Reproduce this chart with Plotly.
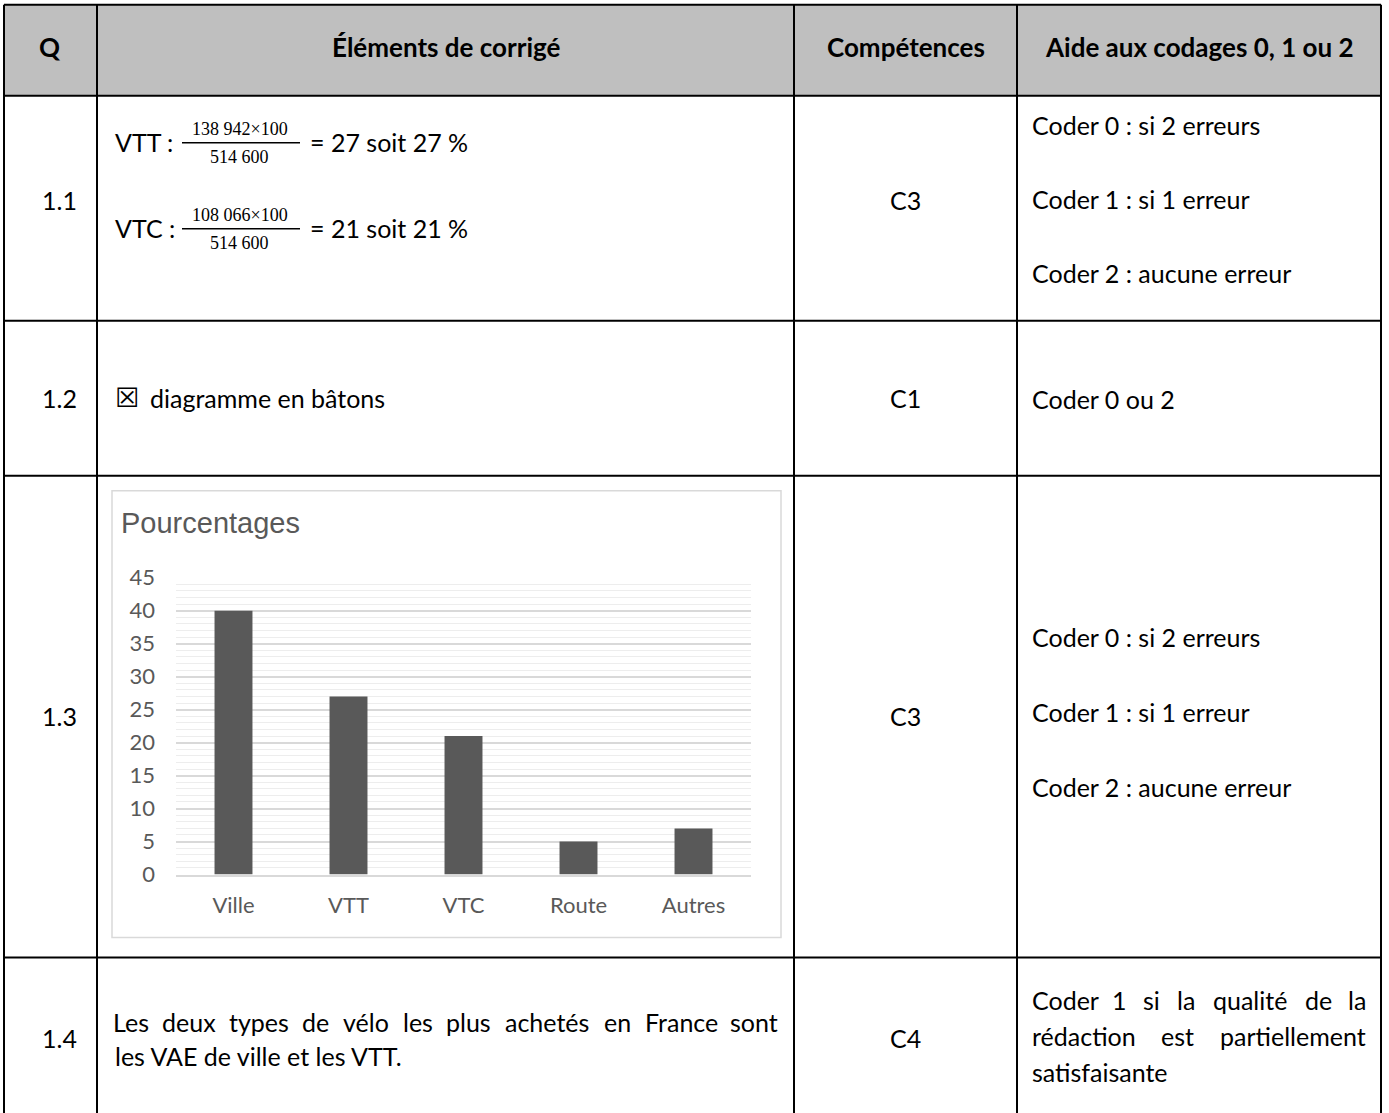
import plotly.graph_objects as go

W, H = 1389, 1113

# ---------------- data ----------------
categories = ["Ville", "VTT", "VTC", "Route", "Autres"]
pourcentages = [40, 27, 21, 5, 7]
y_ticks = [0, 5, 10, 15, 20, 25, 30, 35, 40, 45]

headers = ["Q", "Éléments de corrigé", "Compétences", "Aide aux codages 0, 1 ou 2"]
questions = ["1.1", "1.2", "1.3", "1.4"]
competences = ["C3", "C1", "C3", "C4"]
aide_11 = ["Coder 0 : si 2 erreurs", "Coder 1 : si 1 erreur", "Coder 2 : aucune erreur"]
aide_12 = "Coder 0 ou 2"
aide_13 = ["Coder 0 : si 2 erreurs", "Coder 1 : si 1 erreur", "Coder 2 : aucune erreur"]
formule_labels = ["VTT :", "VTC :"]
formule_num = ["138 942×100", "108 066×100"]
formule_den = ["514 600", "514 600"]
formule_res = ["= 27 soit 27 %", "= 21 soit 21 %"]
case_cochee = "☒"
reponse_12 = "diagramme en bâtons"
reponse_14_l1 = ["Les", "deux", "types", "de", "vélo", "les", "plus", "achetés", "en", "France", "sont"]
reponse_14_l2 = "les VAE de ville et les VTT."
aide_14_l1 = ["Coder", "1", "si", "la", "qualité", "de", "la"]
aide_14_l2 = ["rédaction", "est", "partiellement"]
aide_14_l3 = "satisfaisante"
chart_title = "Pourcentages"


def X(px):
    return px / W


def Y(py):
    # vertical position in the picture -> paper fraction
    return 1 - ((py - 13.2) / 0.976) / H


TXT = "Lato, 'DejaVu Sans', sans-serif"
FS = 25
fig = go.Figure()

fig.add_trace(go.Bar(x=categories, y=pourcentages, marker=dict(color="#595959", line=dict(width=0)),
                     width=0.33, hoverinfo="skip"))

# ------------- table geometry -------------
xl, xq, xe, xc, xr = 4, 97, 794, 1017, 1381
yt, yh, y1, y2, y3, yb = 4, 95, 320, 475, 957, 1113

shapes = []
shapes.append(dict(type="rect", xref="paper", yref="paper", x0=X(xl), x1=X(xr), y0=Y(yh), y1=Y(yt),
                   fillcolor="#BFBFBF", line=dict(width=0), layer="below"))
line = dict(color="black", width=2)
for yy in [yt, yh, y1, y2, y3]:
    shapes.append(dict(type="line", xref="paper", yref="paper", x0=X(xl), x1=X(xr), y0=Y(yy), y1=Y(yy), line=line))
for xx in [xl, xq, xe, xc, xr]:
    shapes.append(dict(type="line", xref="paper", yref="paper", x0=X(xx), x1=X(xx), y0=Y(yt), y1=Y(yb + 40), line=line))
# chart frame
shapes.append(dict(type="rect", xref="paper", yref="paper", x0=X(112), x1=X(781), y0=Y(937), y1=Y(490),
                   line=dict(color="#D9D9D9", width=1.5), fillcolor="rgba(0,0,0,0)", layer="below"))

ann = []


def text(s, x, y, xa="left", size=FS, bold=False, color="black", family=TXT):
    ann.append(dict(text=("<b>%s</b>" % s) if bold else s, x=X(x), y=Y(y), xref="paper", yref="paper",
                    xanchor=xa, yanchor="middle", showarrow=False,
                    font=dict(family=family, size=size, color=color)))


# headers
hx = [50, (xq + xe) / 2, (xe + xc) / 2, (xc + xr) / 2]
for h, x in zip(headers, hx):
    text(h, x, 46, xa="center", bold=True, size=26)

# Q column / competences
qy = [199, 397, 715, 1037]
for q, y in zip(questions, qy):
    text(q, 59, y, xa="center")
for c, y in zip(competences, qy):
    text(c, (xe + xc) / 2, y, xa="center")

# row 1.1 formulas
fy = [141, 227]
SERIF = "'Liberation Serif', 'DejaVu Serif', serif"
for lab, num, den, res, y in zip(formule_labels, formule_num, formule_den, formule_res, fy):
    text(lab, 113, y)
    text(num, 240, y - 13, xa="center", size=18, family=SERIF)
    text(den, 240, y + 15, xa="center", size=18, family=SERIF)
    shapes.append(dict(type="line", xref="paper", yref="paper", x0=X(182), x1=X(300), y0=Y(y + 1), y1=Y(y + 1),
                       line=dict(color="black", width=1.3)))
    text(res, 308, y)

for s, y in zip(aide_11, [124, 198, 272]):
    text(s, 1030, y)

# row 1.2
text(case_cochee, 113, 397, size=27, family="'DejaVu Sans', sans-serif")
text(reponse_12, 148, 397)
text(aide_12, 1030, 398)

# row 1.3
for s, y in zip(aide_13, [636, 711, 786]):
    text(s, 1030, y)
text(chart_title, 119, 522, size=29, color="#595959", family="'Liberation Sans', Arial, sans-serif")

# row 1.4 (justified first line: word centres)
l1_cx = [130.7, 188.5, 258.5, 315.6, 366, 417.6, 468.7, 547.3, 617.1, 681.3]
for w_, cx in zip(reponse_14_l1[:-1], l1_cx):
    text(w_, cx, 1021, xa="center")
text(reponse_14_l1[-1], 780, 1021, xa="right")
text(reponse_14_l2, 113, 1055)

# justified text in the last cell
text(aide_14_l1[0], 1030, 999)
for w_, cx in zip(aide_14_l1[1:-1], [1119, 1151, 1186, 1250, 1318]):
    text(w_, cx, 999, xa="center")
text(aide_14_l1[-1], 1368, 999, xa="right")
text(aide_14_l2[0], 1030, 1035)
text(aide_14_l2[1], 1177, 1035, xa="center")
text(aide_14_l2[2], 1368, 1035, xa="right")
text(aide_14_l3, 1030, 1071)

CHART_FONT = "Lato, 'DejaVu Sans', sans-serif"
fig.update_layout(
    width=W, height=H, margin=dict(l=0, r=0, t=0, b=0),
    paper_bgcolor="white", plot_bgcolor="white", showlegend=False,
    shapes=shapes, annotations=ann,
    xaxis=dict(domain=[X(176), X(751)], showgrid=False, showline=True, linecolor="#D9D9D9", linewidth=1.5,
               ticks="", tickfont=dict(family=CHART_FONT, size=22, color="#595959"),
               ticklabelstandoff=10, fixedrange=True),
    yaxis=dict(domain=[Y(874), Y(577)], range=[0, 45], tickvals=y_ticks, showgrid=True,
               gridcolor="#D9D9D9", gridwidth=1.5, zeroline=False, showline=False, ticks="",
               minor=dict(dtick=1, showgrid=True, gridcolor="#EDEDED", gridwidth=1),
               tickfont=dict(family=CHART_FONT, size=22, color="#595959"),
               ticklabelstandoff=20, fixedrange=True),
)

fig.write_html("out.html", config={"displayModeBar": False},
               post_script="document.body.style.margin='0';document.body.style.overflow='hidden';")
